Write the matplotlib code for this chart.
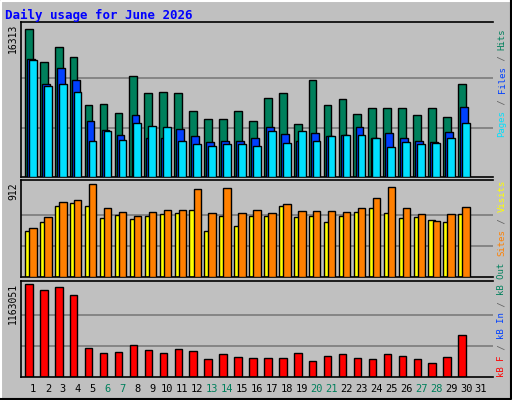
import matplotlib
matplotlib.use("Agg")
import matplotlib.pyplot as plt
from matplotlib.lines import Line2D

days = list(range(1, 32))
data_days = list(range(1, 31))
weekend_days = [6, 7, 13, 14, 20, 21, 27, 28]

hits = [16313, 12651, 14315, 13205, 7990, 8101, 7102, 11097, 9211, 9321, 9211, 7324, 6436, 6436, 7324,
        6214, 8656, 9211, 5881, 10653, 7990, 8545, 6991, 7657, 7657, 7657, 6880, 7657, 6658, 10209]
files = [12983, 10209, 11985, 10653, 6214, 5216, 4661, 6880, 4328, 4328, 5327, 4550, 3884, 3995, 3995,
         4328, 5549, 4772, 3995, 4883, 4550, 4661, 5549, 4328, 4883, 4328, 3995, 3884, 4994, 7768]
pages = [12873, 9987, 10209, 9321, 3995, 5105, 4106, 5992, 5659, 5549, 3995, 3662, 3440, 3662, 3662,
         3440, 5105, 3773, 5105, 3995, 4550, 4661, 4661, 4328, 3329, 3884, 3662, 3773, 4328, 5992]
sites = [476, 585, 734, 753, 912, 674, 634, 595, 634, 654, 654, 862, 625, 872, 625,
         654, 625, 714, 644, 644, 644, 634, 674, 773, 882, 674, 615, 545, 615, 684]
visits = [456, 535, 694, 724, 694, 575, 605, 565, 595, 615, 625, 654, 456, 595, 496,
          595, 595, 694, 585, 595, 535, 595, 634, 674, 625, 575, 585, 555, 535, 615]
kbytes = [1163051, 1087200, 1125140, 1024000, 366600, 303400, 316000, 404500, 341300, 303400,
          354000, 328700, 227600, 290800, 252800, 240200, 240200, 240200, 303400, 202300,
          265500, 290800, 240200, 227600, 290800, 265500, 227600, 177000, 252800, 531000]

W, H = 512, 400
BG = "#c0c0c0"
fig = plt.figure(figsize=(W / 100, H / 100), dpi=100, facecolor=BG)
MONO = "DejaVu Sans Mono"

def px_axes(x0, y0, x1, y1):
    return fig.add_axes([x0 / W, 1 - y1 / H, (x1 - x0) / W, (y1 - y0) / H])

XL, XR = 21, 493
xlim = (0.2, 31.8)

# panel geometry: (axis top px, axis bottom px, top of max bar px)
panels = [(22, 177, 29), (180, 277, 184), (281, 377, 284)]
maxes = [max(hits), max(sites), max(kbytes)]
axs = []
for (t, b, bt), m in zip(panels, maxes):
    ax = px_axes(XL, t, XR, b)
    ax.set_facecolor(BG)
    ax.set_xlim(*xlim)
    ax.set_ylim(0, m * (b - t) / (b - bt))
    ax.set_xticks([]); ax.set_yticks([])
    for y in (m / 3, 2 * m / 3):
        ax.axhline(y, color="#808080", lw=1.3, zorder=0)
    for s in ax.spines.values():
        s.set_color("black"); s.set_linewidth(1.2)
    ax.spines["right"].set_visible(False)
    axs.append(ax)
    fig.text((XL - 8) / W, 1 - (t + 2) / H, str(m), rotation=90, ha="center", va="top",
             fontsize=7, family=MONO, color="black")

ekw = dict(edgecolor="black", linewidth=1.0, align="edge")
axs[0].bar([d - 0.54 for d in data_days], hits, 0.52, color="#00805c", **ekw, zorder=2)
axs[0].bar([d - 0.40 for d in data_days], files, 0.52, color="#0040ff", **ekw, zorder=3)
axs[0].bar([d - 0.27 for d in data_days], pages, 0.52, color="#00e0ff", **ekw, zorder=4)
axs[1].bar([d - 0.52 for d in data_days], visits, 0.45, color="#ffff00", **ekw, zorder=2)
axs[1].bar([d - 0.25 for d in data_days], sites, 0.5, color="#ff8000", **ekw, zorder=3)
axs[2].bar([d - 0.52 for d in data_days], kbytes, 0.5, color="#ff0000", **ekw, zorder=2)

# day labels
for d in days:
    x = XL + (d - xlim[0]) / (xlim[1] - xlim[0]) * (XR - XL)
    fig.text(x / W, 1 - 389 / H, str(d), ha="center", va="center", fontsize=7.5, family=MONO,
             color="#00805c" if d in weekend_days else "black")

# right-side coloured legends, drawn bottom-to-top
CH = 5.45
def vlabel(segments, y_start, x=502):
    y = y_start
    for txt, col in segments:
        fig.text(x / W, 1 - y / H, txt, rotation=90, ha="center", va="bottom",
                 fontsize=6.5, family=MONO, color=col)
        y -= CH * len(txt)

vlabel([("Pages", "#00e0ff"), (" / ", "#606060"), ("Files", "#0040ff"), (" / ", "#606060"),
        ("Hits", "#00805c")], 137)
vlabel([("Sites", "#ff8000"), (" / ", "#606060"), ("Visits", "#ffff00")], 256)
vlabel([("kB F", "#ff0000"), (" / ", "#606060"), ("kB In", "#0040ff"), (" / ", "#606060"),
        ("kB Out", "#00805c")], 377)

fig.text(5 / W, 1 - 15 / H, "Daily usage for June 2026", ha="left", va="center",
         fontsize=9, family=MONO, weight="bold", color="#0000ff")

# bevel frame
fig.add_artist(Line2D([1 / W, 1 / W, 1 - 1 / W], [1 / H, 1 - 1 / H, 1 - 1 / H], color="white", lw=1.5))
fig.add_artist(Line2D([1 / W, 1 - 1 / W, 1 - 1 / W], [1 / H, 1 / H, 1 - 1 / H], color="black", lw=1.5))
fig.add_artist(Line2D([1 / W, 1 - 1 / W], [1 - 6 / H, 1 - 6 / H], color=BG, lw=0))

fig.savefig("out.png", dpi=100, facecolor=BG)
